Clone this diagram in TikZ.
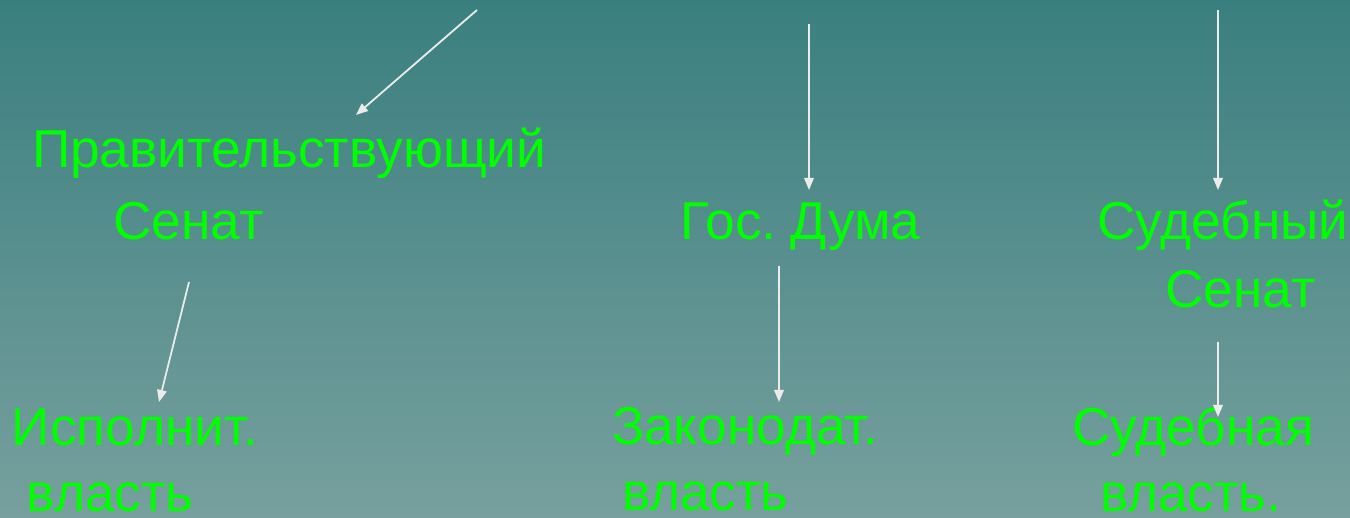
\documentclass[tikz,border=0pt]{standalone}
\usepackage{fontspec}
\setmainfont{Liberation Sans}
\usetikzlibrary{arrows.meta}
\definecolor{bgtop}{RGB}{58,127,127}
\definecolor{bgbot}{RGB}{119,160,158}
\definecolor{txt}{RGB}{0,255,0}
\definecolor{arr}{RGB}{236,236,236}
\begin{document}
\begin{tikzpicture}[x=1pt,y=1pt,
  lbl/.style={anchor=base west,inner sep=0pt,outer sep=0pt,text=txt,font=\fontsize{53.3}{60}\selectfont},
  conn/.style={draw=arr,line width=1.8pt,-{Triangle[length=12pt,width=9.5pt]}}]
\shade[top color=bgtop,bottom color=bgbot] (0,0) rectangle (1350,518);
\useasboundingbox (0,0) rectangle (1350,518);
% text lines (baseline positions, y = 518 - pixel row)
\node[lbl] (prav) at (32,350) {Правительствующий};
\node[lbl] (sen1) at (113,278) {Сенат};
\node[lbl] (duma) at (680,278) {Гос.\hspace{-0.1em} Дума};
\node[lbl] (sud1) at (1097,278) {Судебный};
\node[lbl] (sud2) at (1165,210) {Сенат};
\node[lbl] (isp1) at (12,72) {Исполнит.};
\node[lbl] (isp2) at (27,6) {власть};
\node[lbl] (zak1) at (612,73) {Законодат.};
\node[lbl] (zak2) at (622,7) {власть};
\node[lbl] (sv1) at (1072,72) {Судебная};
\node[lbl] (sv2) at (1100,6) {власть.};
% connector ends
\coordinate (a1s) at (477,508);
\coordinate (a1e) at (356,403);
\coordinate (a2s) at (809,494);
\coordinate (a2e) at (809,328);
\coordinate (a3s) at (1218,508);
\coordinate (a3e) at (1218,328);
\coordinate (a4s) at (189,236);
\coordinate (a4e) at (159,116);
\coordinate (a5s) at (779,252);
\coordinate (a5e) at (779,116);
\coordinate (a6s) at (1218,176);
\coordinate (a6e) at (1218,101);
\draw[conn] (a1s) -- (a1e);
\draw[conn] (a2s) -- (a2e);
\draw[conn] (a3s) -- (a3e);
\draw[conn] (a4s) -- (a4e);
\draw[conn] (a5s) -- (a5e);
\draw[conn] (a6s) -- (a6e);
\end{tikzpicture}
\end{document}
